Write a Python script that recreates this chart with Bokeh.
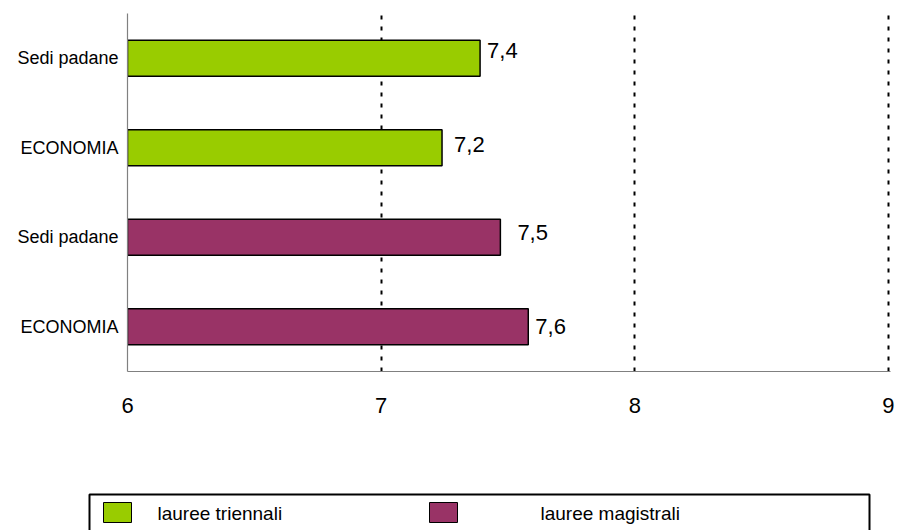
from bokeh.plotting import figure
from bokeh.models import FixedTicker, Range1d, ColumnDataSource
from bokeh.layouts import column
from bokeh.core.properties import value
from bokeh.embed import file_html
from bokeh.resources import INLINE

# ---- data ----
categories = ["Sedi padane", "ECONOMIA", "Sedi padane", "ECONOMIA"]
series = ["lauree triennali", "lauree triennali", "lauree magistrali", "lauree magistrali"]
values = [7.39, 7.24, 7.47, 7.58]
value_labels = ["7,4", "7,2", "7,5", "7,6"]
legend_labels = ["lauree triennali", "lauree magistrali"]
x_ticks = [6, 7, 8, 9]

# ---- style ----
colors = {"lauree triennali": "#99cc00", "lauree magistrali": "#993366"}
label_dx = [7, 12, 17, 7]
label_dy = [-8, -3, -5, 0]
FONT = "Liberation Sans"

n = len(categories)
ypos = [n - i for i in range(n)]

src = ColumnDataSource(dict(
    y=ypos, v=values, txt=value_labels,
    color=[colors[s] for s in series],
    dx=label_dx, dy=label_dy,
))

W, H = 898, 530
H1 = 460
p = figure(width=W, height=H1, x_range=Range1d(x_ticks[0], x_ticks[-1] + 0.008),
           y_range=Range1d(0.5, n + 0.5), toolbar_location=None,
           output_backend="svg", min_border_left=127, min_border_right=8,
           min_border_top=13, min_border_bottom=H1 - 371)
p.frame_align = False
p.outline_line_color = None
p.background_fill_color = "white"
p.border_fill_color = "white"

p.hbar(y="y", left=x_ticks[0], right="v", height=0.4, source=src,
       fill_color="color", line_color="black", line_width=1.5)
p.text(x="v", y="y", text="txt", x_offset="dx", y_offset="dy", source=src,
       text_font=value(FONT), text_font_size="22px", text_color="black",
       text_baseline="middle", text_align="left")

# axes
p.xaxis.ticker = FixedTicker(ticks=x_ticks)
p.xaxis.axis_line_color = "#808080"
p.xaxis.axis_line_width = 1.2
p.xaxis.major_tick_out = 0
p.xaxis.major_tick_in = 0
p.xaxis.minor_tick_out = 0
p.xaxis.minor_tick_in = 0
p.xaxis.major_label_text_font = FONT
p.xaxis.major_label_text_font_size = "22px"
p.xaxis.major_label_text_color = "black"
p.xaxis.major_label_standoff = 26

p.yaxis.ticker = FixedTicker(ticks=ypos)
p.yaxis.major_label_overrides = {y: c for y, c in zip(ypos, categories)}
p.yaxis.axis_line_color = "#808080"
p.yaxis.axis_line_width = 1.2
p.yaxis.major_tick_out = 0
p.yaxis.major_tick_in = 0
p.yaxis.minor_tick_out = 0
p.yaxis.minor_tick_in = 0
p.yaxis.major_label_text_font = FONT
p.yaxis.major_label_text_font_size = "18px"
p.yaxis.major_label_text_color = "black"
p.yaxis.major_label_standoff = 9

p.ygrid.visible = False
p.xgrid.ticker = FixedTicker(ticks=x_ticks[1:])
p.xgrid.grid_line_color = "black"
p.xgrid.grid_line_width = 2
p.xgrid.grid_line_dash = "4 7"

# ---- legend strip (pixel coordinates of the page) ----
H2 = H - H1
q = figure(width=W, height=H2, x_range=Range1d(0, W), y_range=Range1d(H, H1),
           toolbar_location=None, output_backend="svg", min_border=0,
           x_axis_location=None, y_axis_location=None)
q.frame_align = False
q.outline_line_color = None
q.grid.visible = False
q.quad(left=89, right=869, top=494, bottom=H + 20, fill_color=None,
       line_color="black", line_width=2)
leg = ColumnDataSource(dict(
    left=[103, 429], right=[131, 457], top=[502, 502], bottom=[522, 522],
    color=[colors[s] for s in legend_labels],
    tx=[157, 540], ty=[513, 513], label=legend_labels,
))
q.quad(left="left", right="right", top="top", bottom="bottom", source=leg,
       fill_color="color", line_color="black", line_width=1)
q.text(x="tx", y="ty", text="label", source=leg, text_font=value(FONT),
       text_font_size="19px", text_color="black", text_baseline="middle")

layout = column(p, q, spacing=0)
open("out.html", "w").write(file_html(layout, INLINE))
